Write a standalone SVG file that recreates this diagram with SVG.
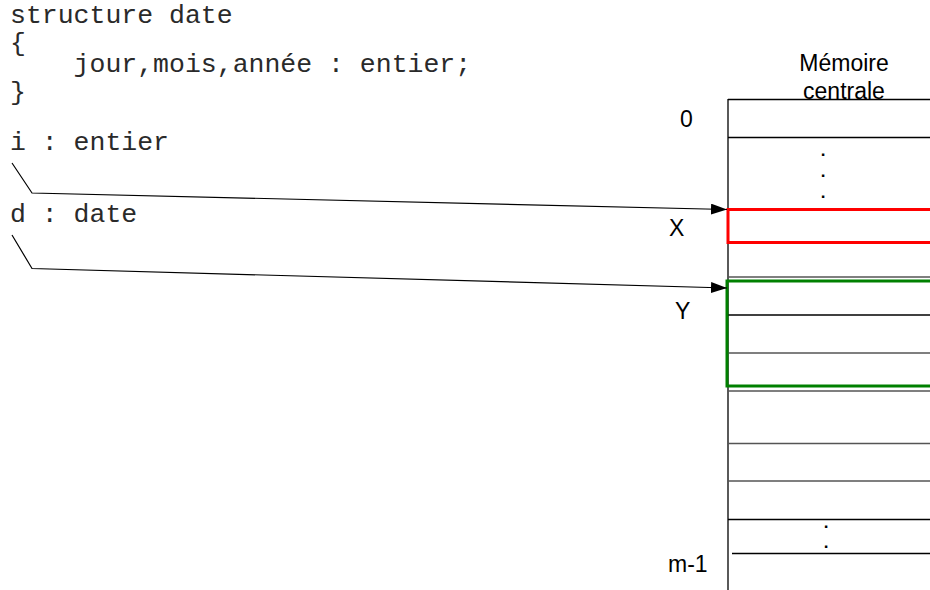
<svg xmlns="http://www.w3.org/2000/svg" width="930" height="590" viewBox="0 0 930 590">
<defs>
<style>
.code{font-family:"Liberation Mono","Courier New",monospace;font-size:26.5px;fill:#2a2a2a;white-space:pre}
.lbl{font-family:"Liberation Sans",Arial,sans-serif;font-size:23px;fill:#000}
.dot{font-family:"Liberation Sans",Arial,sans-serif;font-size:17px;font-weight:bold;fill:#000;text-anchor:middle}
.cell{stroke:#000;stroke-width:1.3;fill:none}
.grey{stroke:#555;stroke-width:1.6;fill:none}
.conn{stroke:#000;stroke-width:1.2;fill:none}
</style>
<marker id="arr" markerWidth="16" markerHeight="11" refX="16" refY="5.5" orient="auto" markerUnits="userSpaceOnUse">
<path d="M0,0 L16,5.5 L0,11 Z" fill="#000"/>
</marker>
</defs>
<rect width="930" height="590" fill="#fff"/>
<g id="code">
<text class="code" x="10" y="23">structure date<tspan x="10" y="51">{</tspan><tspan x="10" y="72">    jour,mois,année : entier;</tspan><tspan x="10" y="100">}</tspan></text>
</g>
<g id="var-i"><text class="code" x="10" y="150">i : entier</text></g>
<g id="var-d"><text class="code" x="10" y="222">d : date</text></g>
<g id="memory">
<text class="lbl" x="844" y="71" text-anchor="middle">Mémoire</text>
<text class="lbl" x="844" y="99" text-anchor="middle">centrale</text>
<line class="cell" x1="728" y1="99" x2="728" y2="590"/>
<line class="cell" x1="728" y1="99.5" x2="930" y2="99.5"/>
<line class="cell" x1="728" y1="137.5" x2="930" y2="137.5"/>
<text class="dot" x="823" y="156">.<tspan x="823" y="177">.</tspan><tspan x="823" y="198">.</tspan></text>
<line class="grey" x1="728" y1="277" x2="930" y2="277"/>
<line class="cell" x1="728" y1="315" x2="930" y2="315"/>
<line class="grey" x1="728" y1="353" x2="930" y2="353"/>
<line class="grey" x1="728" y1="391" x2="930" y2="391"/>
<line class="grey" x1="728" y1="443.5" x2="930" y2="443.5"/>
<line class="grey" x1="728" y1="481" x2="930" y2="481"/>
<line class="cell" x1="728" y1="519.5" x2="930" y2="519.5"/>
<line class="cell" x1="732" y1="553.5" x2="930" y2="553.5"/>
<text class="dot" x="826" y="528">.<tspan x="826" y="548">.</tspan></text>
<text class="lbl" x="680" y="127">0</text>
<text class="lbl" x="668" y="572">m-1</text>
</g>
<g id="x-cell">
<rect x="728" y="209.5" width="210" height="33" fill="none" stroke="#ff0000" stroke-width="3"/>
<text class="lbl" x="669" y="236">X</text>
</g>
<g id="y-cell">
<rect x="727" y="281" width="210" height="105" fill="none" stroke="#008000" stroke-width="3"/>
<text class="lbl" x="675" y="319">Y</text>
</g>
<g id="connectors">
<polyline class="conn" points="12,163 32,193 727,209.5" marker-end="url(#arr)"/>
<polyline class="conn" points="12,235 32,268.5 727,288" marker-end="url(#arr)"/>
</g>
</svg>
